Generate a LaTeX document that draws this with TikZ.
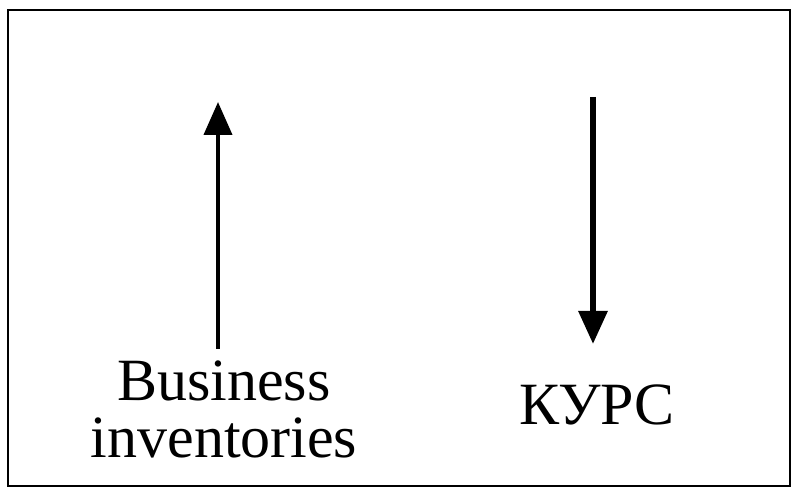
\documentclass[tikz,border=0pt]{standalone}
\usepackage{fontspec}
\setmainfont{Liberation Serif}
\usetikzlibrary{arrows.meta}
\begin{document}
\begin{tikzpicture}[x=1pt,y=1pt,
  frame/.style={draw=black,line width=2pt},
  lbl/.style={font=\fontsize{60}{57}\selectfont,align=center,inner sep=0pt},
  bigarrow/.style={-{Triangle[length=33pt,width=28pt]}}]
\useasboundingbox (0,0) rectangle (796,496);
\draw[frame] (8,486) rectangle (790,10);
\node[lbl,anchor=base] (biz) at (224,39) {Business\\inventories};
\node[lbl,anchor=base] (kurs) at (597,71) {КУРС};
\coordinate (a1s) at (218,147);
\coordinate (a1e) at (218,394);
\coordinate (a2s) at (593,399);
\coordinate (a2e) at (593,152);
\draw[bigarrow,line width=4pt] (a1s) -- (a1e);
\draw[bigarrow,line width=6pt] (a2s) -- (a2e);
\end{tikzpicture}
\end{document}
